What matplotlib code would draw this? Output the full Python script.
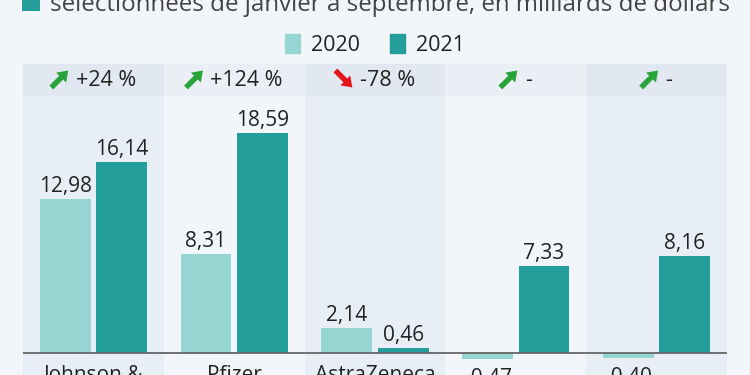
import numpy as np
import matplotlib
matplotlib.use("Agg")
import matplotlib.pyplot as plt
from matplotlib.patches import Rectangle, Polygon, Patch
from matplotlib.transforms import IdentityTransform

# data
categories = ["Johnson &\nJohnson", "Pfizer", "AstraZeneca", "Moderna", "BioNTech"]
values_2020 = [12.98, 8.31, 2.14, -0.47, -0.40]
values_2021 = [16.14, 18.59, 0.46, 7.33, 8.16]
changes = ["+24 %", "+124 %", "-78 %", "-", "-"]
trend_up = [True, True, False, True, True]
series_names = ["2020", "2021"]
title = "sélectionnées de janvier à septembre, en milliards de dollars"

BG = "#f2f5f9"
COL_DARK = "#e8eef6"
HDR_DARK = "#e1e8f1"
HDR_LIGHT = "#eaeff6"
C2020 = "#95d6d3"
C2021 = "#239e9a"
TXT = "#222222"
GREEN = "#28a33a"
RED = "#e3141c"

plt.rcParams["font.family"] = ["Open Sans", "DejaVu Sans"]

W, H = 750, 375
fig = plt.figure(figsize=(7.5, 3.75), dpi=100, facecolor=BG)

# pixel geometry of the plot area
base_px = 353        # zero line, from top
top_px = 64          # header top
hdr_px = 96          # header bottom
ppu = 11.86          # pixels per billion
ax = fig.add_axes([23 / W, 0, 704 / W, 1 - top_px / H])
ax.set_facecolor(BG)
ymin = -(H - base_px) / ppu
ymax = (base_px - top_px) / ppu
hdr_y = (base_px - hdr_px) / ppu
ax.set_xlim(-0.5, len(categories) - 0.5)
ax.set_ylim(ymin, ymax)
ax.axis("off")

x = np.arange(len(categories))

# column shading + header band
for i in x:
    if i % 2 == 0:
        ax.axvspan(i - 0.5, i + 0.5, color=COL_DARK, lw=0, zorder=0)
        hc = HDR_DARK
    else:
        hc = HDR_LIGHT
    ax.add_patch(Rectangle((i - 0.5, hdr_y), 1, ymax - hdr_y, color=hc, lw=0, zorder=0.5))

bw = 0.36
ax.bar(x - 0.2, values_2020, bw, color=C2020, zorder=2)
ax.bar(x + 0.2, values_2021, bw, color=C2021, zorder=2)
ax.axhline(0, color="#666666", lw=1.3, zorder=3)


def fmt(v):
    return f"{v:.2f}".replace(".", ",")


for off, vals in [(-0.2, values_2020), (0.2, values_2021)]:
    for i, v in enumerate(vals):
        if v >= 0:
            ax.annotate(fmt(v), (i + off, v), xytext=(0, 2), textcoords="offset pixels",
                        ha="center", va="bottom", fontsize=15, color=TXT, zorder=4)
        else:
            ax.annotate(fmt(v), (i + off, v), xytext=(0, -9), textcoords="offset pixels",
                        ha="center", va="top", fontsize=15, color=TXT, zorder=4)

# category labels (below the lowest label if a bar is negative)
for i, c in enumerate(categories):
    low = min(values_2020[i], values_2021[i], 0)
    dy = -12 if low >= 0 else -40
    ax.annotate(c, (i, low), xytext=(0, dy), textcoords="offset pixels",
                ha="center", va="top", fontsize=15, color=TXT, zorder=4)

# header: arrow + change text, centred as a group
renderer = fig.canvas.get_renderer()
hdr_base = (base_px - 86) / ppu
arrow_w, gap = 18, 7
for i, txt in enumerate(changes):
    t = ax.text(i, hdr_base, txt, ha="left", va="baseline", fontsize=15.5, color=TXT, zorder=4)
    w = t.get_window_extent(renderer).width
    cx, _ = ax.transData.transform((i, hdr_base))
    start = cx - (arrow_w + gap + w) / 2
    tx = ax.transData.inverted().transform((start + arrow_w + gap, 0))[0]
    t.set_x(tx)
    # block arrow in pixels
    L, s, hl, hw = 24, 2.7, 10, 7
    pts = np.array([(-L / 2, -s), (L / 2 - hl, -s), (L / 2 - hl, -hw), (L / 2, 0),
                    (L / 2 - hl, hw), (L / 2 - hl, s), (-L / 2, s)])
    ang = np.deg2rad(45 if trend_up[i] else -45)
    rot = np.array([[np.cos(ang), -np.sin(ang)], [np.sin(ang), np.cos(ang)]])
    pts = pts @ rot.T + np.array([start + arrow_w / 2, H - 79])
    fig.add_artist(Polygon(pts, closed=True, color=GREEN if trend_up[i] else RED,
                           transform=IdentityTransform(), lw=0))

# title line (cut at the top) with teal square
fig.add_artist(Rectangle((22 / W, 1 - 11 / H), 18 / W, 20 / H, color=C2021,
                         transform=fig.transFigure, lw=0))
fig.text(50 / W, 1 - 11 / H, title, ha="left", va="baseline", fontsize=17.4, color="#444444")

# legend
handles = [Patch(color=C2020), Patch(color=C2021)]
fig.legend(handles, series_names, loc="center", bbox_to_anchor=(375 / W, 1 - 45 / H),
           ncol=2, frameon=False, fontsize=15.5, handlelength=0.7, handleheight=1.0,
           handletextpad=0.5, columnspacing=1.4, labelcolor=TXT)

fig.savefig("out.png", dpi=100, facecolor=BG)
